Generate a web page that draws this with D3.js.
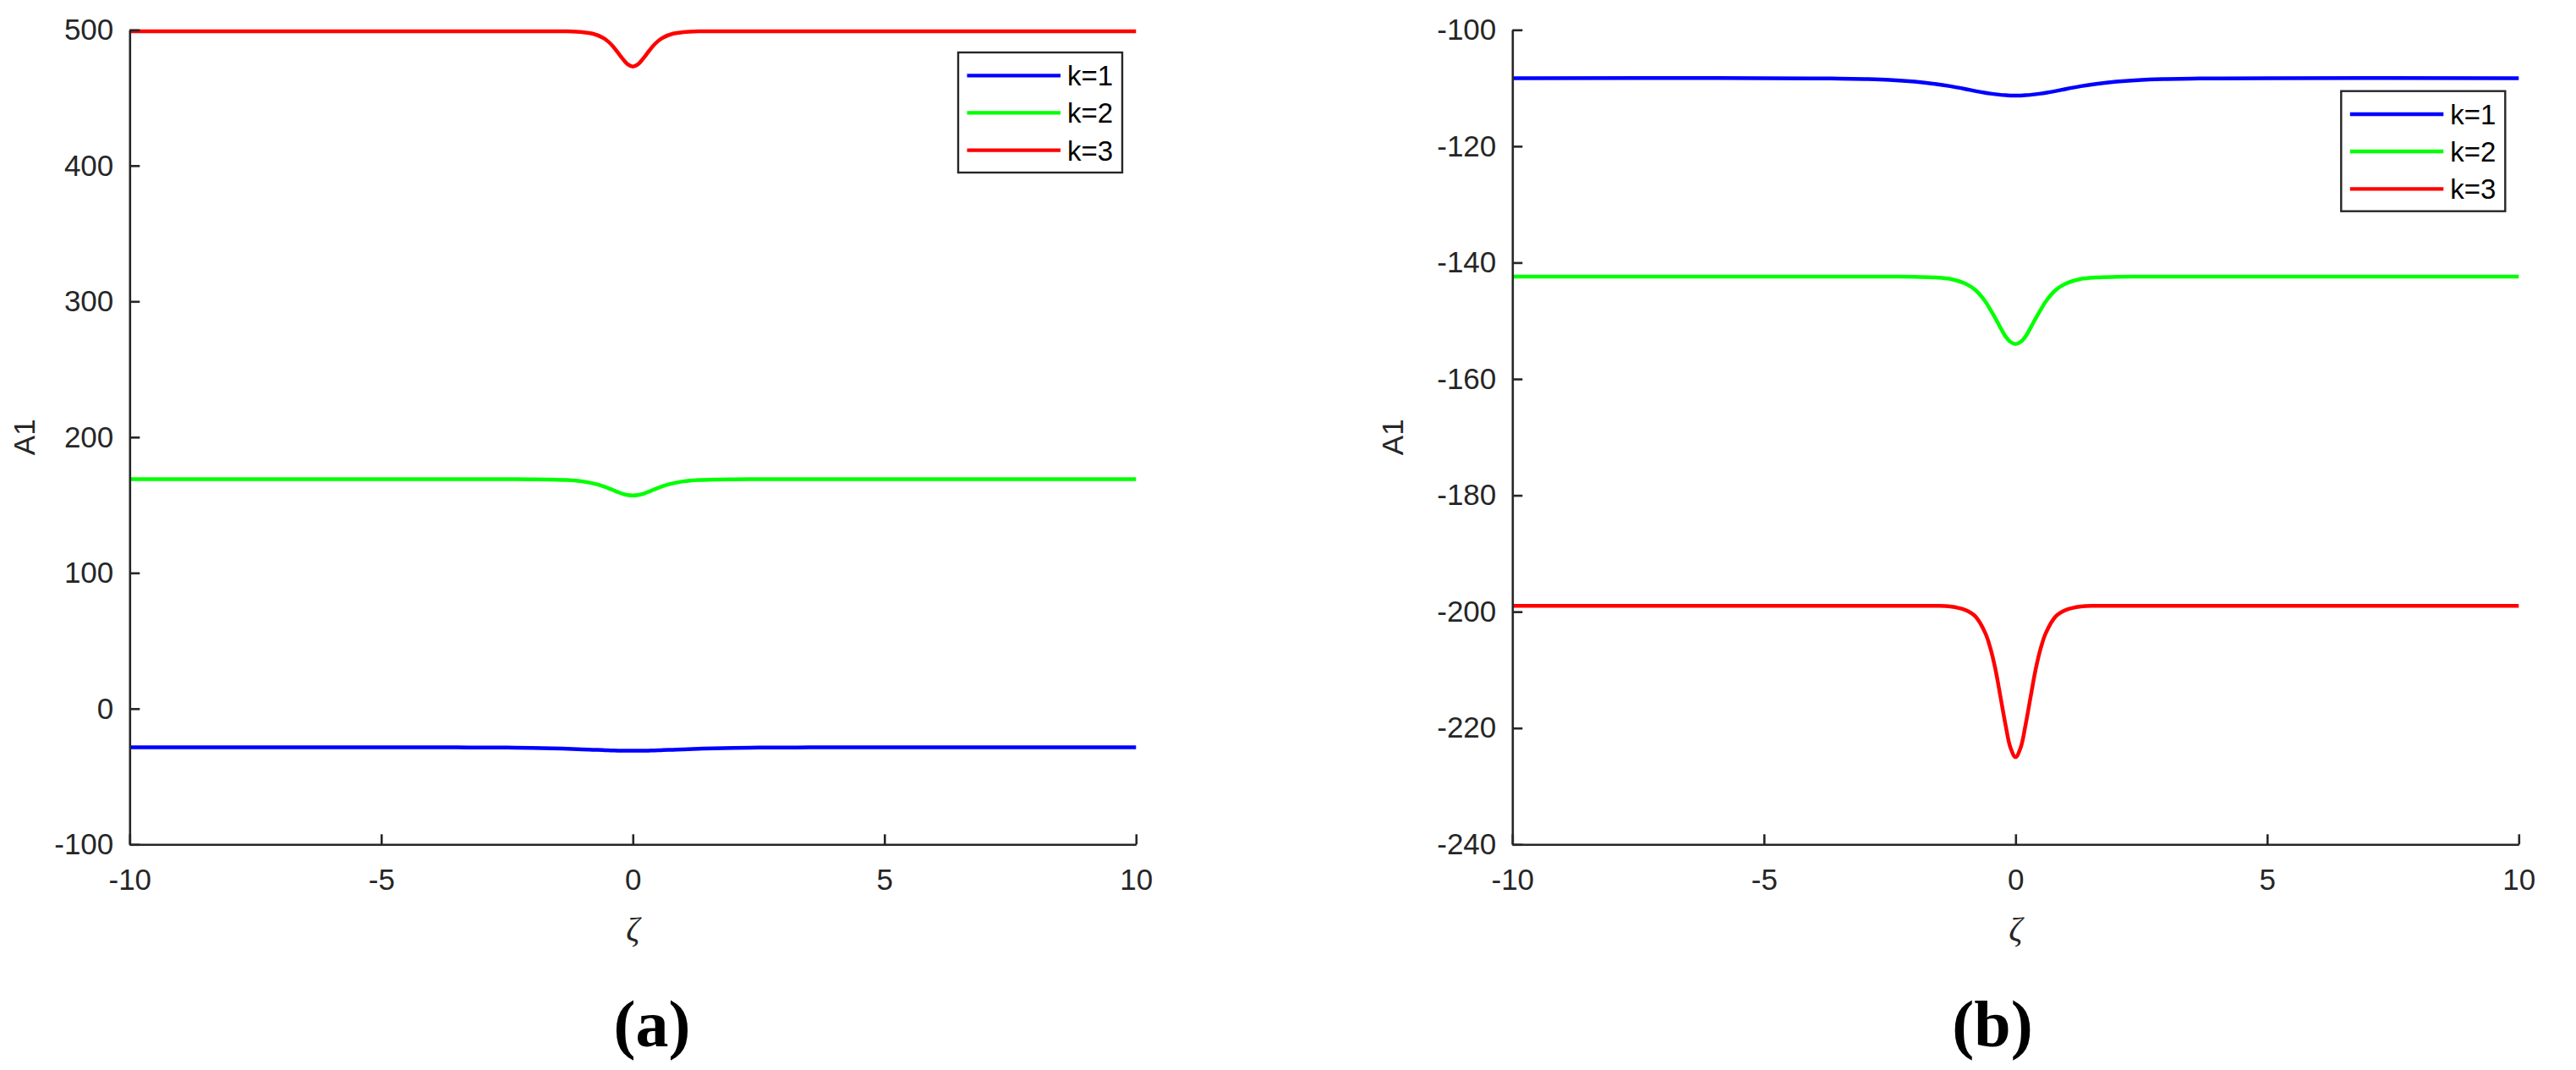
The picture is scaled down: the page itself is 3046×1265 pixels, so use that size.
<!DOCTYPE html>
<html>
<head>
<meta charset="utf-8">
<script src="https://cdn.jsdelivr.net/npm/d3@7"></script>
<style>
  html, body { margin: 0; padding: 0; background: #ffffff; }
  svg { display: block; }
</style>
</head>
<body>
<svg id="chart" width="3046" height="1265"></svg>
<script>
// ---------------- DATA ----------------
const zeta = [-10, -5, -4, -3.5, -3, -2.5, -2, -1.6, -1.3, -1, -0.8, -0.6, -0.5, -0.4, -0.3, -0.2, -0.1,
              0, 0.1, 0.2, 0.3, 0.4, 0.5, 0.6, 0.8, 1, 1.3, 1.6, 2, 2.5, 3, 3.5, 4, 5, 10];

const seriesNames = ["k=1", "k=2", "k=3"];
const seriesColors = ["#0000ff", "#00ff00", "#ff0000"];

// panel (a)
const a_k1 = [-28.5, -28.5, -28.52, -28.55, -28.6, -28.7, -28.9, -29.2, -29.6, -30.0, -30.3, -30.5, -30.7, -30.8, -30.9, -30.9, -31.0,
              -31.0, -31.0, -30.9, -30.9, -30.8, -30.7, -30.5, -30.3, -30.0, -29.6, -29.2, -28.9, -28.7, -28.6, -28.55, -28.52, -28.5, -28.5];
const a_k2 = [169, 169, 169, 169, 169, 169, 168.95, 168.8, 168.4, 167.4, 166.0, 164.0, 162.6, 161.1, 159.6, 158.2, 157.3,
              157.0, 157.3, 158.2, 159.6, 161.1, 162.6, 164.0, 166.0, 167.4, 168.4, 168.8, 168.95, 169, 169, 169, 169, 169, 169];
const a_k3 = [499, 499, 499, 499, 499, 499, 499, 499, 498.9, 498.3, 497.2, 494.3, 491.7, 488.1, 483.4, 478.6, 474.6,
              473.0, 474.6, 478.6, 483.4, 488.1, 491.7, 494.3, 497.2, 498.3, 498.9, 499, 499, 499, 499, 499, 499, 499, 499];

// panel (b)
const b_k1 = [-108.3, -108.3, -108.34, -108.38, -108.46, -108.6, -108.9, -109.29, -109.68, -110.16, -110.52, -110.82, -110.95, -111.06, -111.17, -111.24, -111.28,
              -111.3, -111.28, -111.24, -111.17, -111.06, -110.95, -110.82, -110.52, -110.16, -109.68, -109.29, -108.9, -108.6, -108.46, -108.38, -108.34, -108.3, -108.3];
const b_k2 = [-142.4, -142.4, -142.4, -142.4, -142.4, -142.4, -142.45, -142.55, -142.8, -143.6, -144.7, -146.7, -148.1, -149.6, -151.18, -152.67, -153.64,
              -154.0, -153.64, -152.67, -151.18, -149.6, -148.1, -146.7, -144.7, -143.6, -142.8, -142.55, -142.45, -142.4, -142.4, -142.4, -142.4, -142.4, -142.4];
const b_k3 = [-199, -199, -199, -199, -199, -199, -199, -199.0, -199.1, -199.7, -200.8, -203.7, -206.3, -209.9, -214.6, -219.4, -223.4,
              -225.0, -223.4, -219.4, -214.6, -209.9, -206.3, -203.7, -200.8, -199.7, -199.1, -199.0, -199, -199, -199, -199, -199, -199, -199];

const xTicks = [-10, -5, 0, 5, 10];
const aYTicks = [-100, 0, 100, 200, 300, 400, 500];
const bYTicks = [-240, -220, -200, -180, -160, -140, -120, -100];
const xLabel = "ζ";
const yLabel = "A1";
const panelLabels = ["(a)", "(b)"];

// ---------------- LAYOUT ----------------
const svg = d3.select("#chart");
const axisColor = "#262626";
const tickFont = "'Liberation Sans', Arial, Helvetica, sans-serif";

const panels = [
  { x0: 153.3, x1: 1343.3, yDomain: [-100, 500], yTicks: aYTicks, series: [a_k1, a_k2, a_k3],
    legend: { x: 1133, y: 62 }, yLabelX: 29, label: panelLabels[0], labelX: 771 },
  { x0: 1788.3, x1: 2978.3, yDomain: [-240, -100], yTicks: bYTicks, series: [b_k1, b_k2, b_k3],
    legend: { x: 2768.3, y: 107.7 }, yLabelX: 1647, label: panelLabels[1], labelX: 2356 }
];
const yTop = 35.3, yBottom = 998.3;

panels.forEach(p => {
  const x = d3.scaleLinear().domain([-10, 10]).range([p.x0, p.x1]);
  const y = d3.scaleLinear().domain(p.yDomain).range([yBottom, yTop]);
  const g = svg.append("g");

  // lines
  const line = d3.line().x((d, i) => x(zeta[i])).y(d => y(d)).curve(d3.curveCatmullRom.alpha(0.5));
  p.series.forEach((s, i) => {
    g.append("path").datum(s)
      .attr("fill", "none")
      .attr("stroke", seriesColors[i])
      .attr("stroke-width", 4.5)
      .attr("stroke-linejoin", "round")
      .attr("d", line);
  });

  // axes
  const xAxis = d3.axisBottom(x).tickValues(xTicks).tickSizeInner(-12).tickSizeOuter(0).tickPadding(28.5)
    .tickFormat(d3.format("d"));
  const gx = g.append("g").attr("transform", `translate(0,${yBottom})`).call(xAxis);
  const yAxis = d3.axisLeft(y).tickValues(p.yTicks).tickSizeInner(-12).tickSizeOuter(0).tickPadding(19)
    .tickFormat(d3.format("d"));
  const gy = g.append("g").attr("transform", `translate(${p.x0},0)`).call(yAxis);

  [gx, gy].forEach(ax => {
    ax.select(".domain").attr("stroke", axisColor).attr("stroke-width", 2.6);
    ax.selectAll(".tick line").attr("stroke", axisColor).attr("stroke-width", 2.6);
    ax.selectAll(".tick text").attr("fill", axisColor)
      .style("font-family", tickFont).style("font-size", "35px");
  });
  gx.selectAll(".tick text").text(d => d < 0 ? "-" + Math.abs(d) : d);
  gy.selectAll(".tick text").text(d => d < 0 ? "-" + Math.abs(d) : d);

  // axis labels
  g.append("text")
    .attr("x", x(0)).attr("y", 1112)
    .attr("text-anchor", "middle")
    .attr("fill", axisColor)
    .style("font-family", "'Liberation Serif', 'Times New Roman', serif")
    .style("font-style", "italic")
    .style("font-size", "40px")
    .text(xLabel);

  g.append("text")
    .attr("transform", `translate(${p.yLabelX},${(yTop + yBottom) / 2}) rotate(-90)`)
    .attr("dy", "0.35em")
    .attr("text-anchor", "middle")
    .attr("fill", axisColor)
    .style("font-family", tickFont)
    .style("font-size", "35px")
    .text(yLabel);

  // legend
  const lg = g.append("g").attr("transform", `translate(${p.legend.x},${p.legend.y})`);
  lg.append("rect").attr("width", 194).attr("height", 142)
    .attr("fill", "#ffffff").attr("stroke", axisColor).attr("stroke-width", 2.4);
  const entryY = [27.3, 71.3, 115.7];
  seriesNames.forEach((nm, i) => {
    lg.append("line").attr("x1", 10.5).attr("x2", 121).attr("y1", entryY[i]).attr("y2", entryY[i])
      .attr("stroke", seriesColors[i]).attr("stroke-width", 4.3);
    lg.append("text").attr("x", 129).attr("y", entryY[i]).attr("dy", "0.36em")
      .attr("fill", "#000000")
      .style("font-family", tickFont).style("font-size", "33px")
      .text(nm);
  });

  // panel label
  g.append("text")
    .attr("x", p.labelX).attr("y", 1237)
    .attr("text-anchor", "middle")
    .attr("fill", "#000000")
    .style("font-family", "'Liberation Serif', 'Times New Roman', serif")
    .style("font-weight", "bold")
    .style("font-size", "78px")
    .text(p.label);
});
</script>
</body>
</html>
